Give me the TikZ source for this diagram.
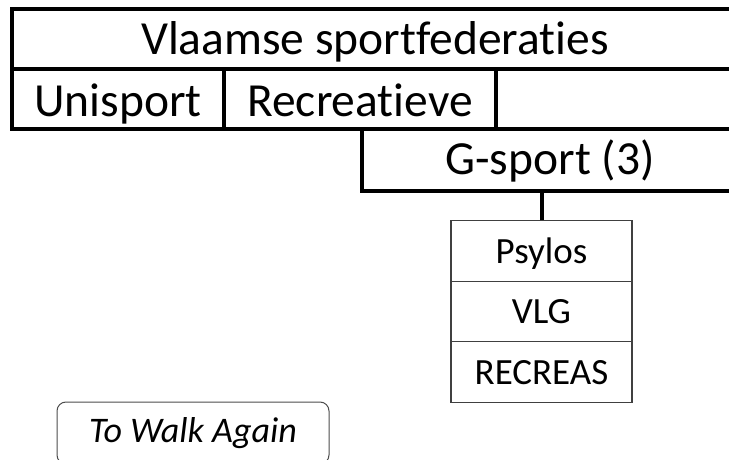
\documentclass[tikz,border=0pt]{standalone}
\usepackage{fontspec}
\setmainfont{Carlito}[Ligatures={NoCommon,NoContextual}]
\begin{document}
\begin{tikzpicture}[x=1pt,y=-1pt,
  thickbox/.style={draw=black, line width=4pt, rectangle, inner sep=0pt,
    text height=32pt, text depth=0pt, font=\fontsize{47.5}{56}\selectfont},
  thinbox/.style={draw=black!75, line width=1.2pt, rectangle, inner sep=0pt,
    minimum width=181pt, minimum height=60.5pt,
    text height=24pt, text depth=0pt, font=\fontsize{37}{44}\selectfont},
  walkbox/.style={draw=black!70, line width=1pt, rectangle, rounded corners=9pt,
    inner sep=0pt, minimum width=272pt, minimum height=62pt,
    text height=18pt, text depth=0pt, font=\fontsize{36}{43}\selectfont\itshape},
  link/.style={draw=black, line width=4pt}
]
\useasboundingbox (0,0) rectangle (729,460);
\node[thickbox, minimum width=726pt, minimum height=60pt] (top) at (375,39) {Vlaamse sportfederaties};
\node[thickbox, minimum width=212pt, minimum height=60pt, text height=36pt] (uni) at (118,99) {Unisport};
\node[thickbox, minimum width=272pt, minimum height=60pt, text height=36pt] (rec) at (360,99) {Recreatieve};
\node[thickbox, minimum width=242pt, minimum height=60pt] (third) at (617,99) {};
\node[thickbox, minimum width=376pt, minimum height=62pt, text height=30pt] (gsport) at (550,160) {G-sport (3)};
\node[thinbox] (psylos) at (541.5,251) {Psylos};
\node[thinbox] (vlg) at (541.5,311.5) {VLG};
\node[thinbox] (recreas) at (541.5,372) {RECREAS};
\draw[link] (psylos.north) -- (psylos.north |- gsport.south);
\node[walkbox] (walk) at (193,433) {To Walk Again};
\end{tikzpicture}
\end{document}
